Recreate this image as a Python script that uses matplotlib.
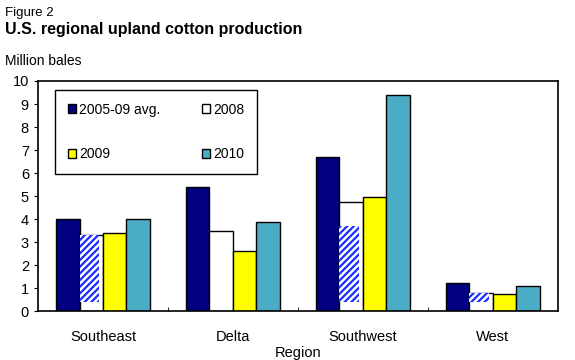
import matplotlib.pyplot as plt
import numpy as np

plt.rcParams['font.family'] = ['Liberation Sans', 'DejaVu Sans']
plt.rcParams['hatch.linewidth'] = 1.6

regions = ['Southeast', 'Delta', 'Southwest', 'West']
avg_0509 = [4.0, 5.4, 6.7, 1.2]
y2008 = [3.3, 3.5, 4.75, 0.8]
y2009 = [3.4, 2.6, 4.95, 0.75]
y2010 = [4.0, 3.85, 9.4, 1.1]
# blue hatched patch seen inside the 2008 bars (bottom, top)
hatch_bottom = [0.4, 0.4, 0.4, 0.4]
hatch_top = [3.3, 0.4, 3.7, 0.8]

fig = plt.figure(figsize=(5.75, 3.6), dpi=100)
ax = fig.add_axes([0.066, 0.136, 0.904, 0.639])

x = np.arange(len(regions))
w = 0.18
offs = [-1.5 * w, -0.5 * w, 0.5 * w, 1.5 * w]

b1 = ax.bar(x + offs[0], avg_0509, w, color='#000080', edgecolor='black', lw=1, label='2005-09 avg.')
b2 = ax.bar(x + offs[1], y2008, w, color='white', edgecolor='black', lw=1, label='2008')
hb = np.array(hatch_bottom)
ax.bar(x + offs[1] - w / 2, np.array(hatch_top) - hb, w * 0.82, bottom=hb, align='edge',
       color='white', edgecolor='#1a2cff', lw=0, hatch='/////', label='_nolegend_')
b3 = ax.bar(x + offs[2], y2009, w, color='#ffff00', edgecolor='black', lw=1, label='2009')
b4 = ax.bar(x + offs[3], y2010, w, color='#4bacc6', edgecolor='black', lw=1, label='2010')

ax.set_xlim(-0.5, len(regions) - 0.5)
ax.set_ylim(0, 10)
ax.set_yticks(range(0, 11))
ax.tick_params(axis='y', labelsize=10.5, length=3, direction='out')
ax.set_xticks(x)
ax.set_xticklabels(regions, fontsize=10.5)
ax.tick_params(axis='x', length=0, pad=14)
ax.set_xticks(x[:-1] + 0.5, minor=True)
ax.tick_params(axis='x', which='minor', length=3, direction='in')
ax.set_xlabel('Region', fontsize=10.5, labelpad=1)
for s in ax.spines.values():
    s.set_linewidth(1.2)

leg = ax.legend([b1, b3, b2, b4], ['2005-09 avg.', '2009', '2008', '2010'],
                ncol=2, loc='upper left', bbox_to_anchor=(0.02, 0.99),
                fancybox=False, framealpha=1, edgecolor='black', fontsize=10,
                handlelength=0.6, handleheight=0.6, handletextpad=0.2,
                labelspacing=2.2, columnspacing=3.0, borderpad=0.9)
leg.get_frame().set_linewidth(1)

fig.text(0.009, 0.955, 'Figure 2', fontsize=9.5)
fig.text(0.009, 0.905, 'U.S. regional upland cotton production', fontsize=11.5, fontweight='bold')
fig.text(0.009, 0.82, 'Million bales', fontsize=10)

fig.savefig('out.png', dpi=100)
